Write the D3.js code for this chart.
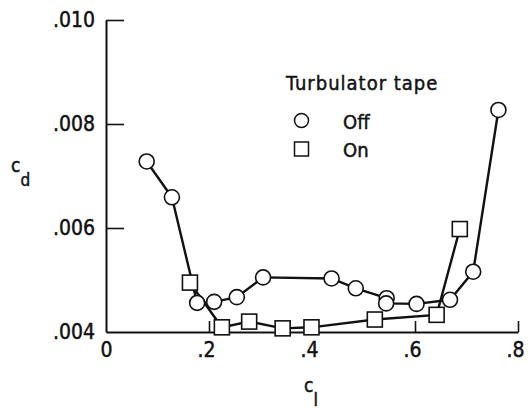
<!DOCTYPE html>
<html>
<head>
<meta charset="utf-8">
<script src="https://cdn.jsdelivr.net/npm/d3@7"></script>
<style>
  html, body { margin: 0; padding: 0; background: #fff; }
  svg text { font-family: "DejaVu Sans Condensed", "DejaVu Sans", sans-serif; fill: #111; stroke: #111; stroke-width: 0.45px; }
</style>
</head>
<body>
<svg id="chart" width="530" height="409"></svg>
<script>
// ---- data ----
const offCl = [0.079, 0.128, 0.177, 0.210, 0.254, 0.305, 0.438, 0.485, 0.545, 0.544, 0.603, 0.668, 0.713, 0.762];
const offCd = [0.00728, 0.00659, 0.00456, 0.00458, 0.00467, 0.00505, 0.00503, 0.00484, 0.00465, 0.00455, 0.00454, 0.00462, 0.00516, 0.00827];
const onCl  = [0.163, 0.225, 0.278, 0.343, 0.399, 0.522, 0.642, 0.687];
const onCd  = [0.00495, 0.00409, 0.00420, 0.00407, 0.00409, 0.00424, 0.00433, 0.00598];
const xTickValues = [0, 0.2, 0.4, 0.6, 0.8];
const xTickLabels = ["0", ".2", ".4", ".6", ".8"];
const yTickValues = [0.004, 0.006, 0.008, 0.010];
const yTickLabels = [".004", ".006", ".008", ".010"];
const legendTitle = "Turbulator tape";
const seriesNames = ["Off", "On"];

const svg = d3.select("#chart");
const ink = "#111";

const x = d3.scaleLinear().domain([0, 0.8]).range([106, 518]);
const y = d3.scaleLinear().domain([0.004, 0.010]).range([332, 20]);

// ---- axes ----
const xAxis = d3.axisBottom(x)
  .tickValues(xTickValues)
  .tickFormat((d, i) => xTickLabels[i])
  .tickSizeInner(-11).tickSizeOuter(0).tickPadding(10);
const gx = svg.append("g").attr("transform", `translate(0,${y(0.004)})`).call(xAxis);
gx.select(".domain").attr("stroke", ink).attr("stroke-width", 2);
gx.selectAll(".tick line").attr("stroke", ink).attr("stroke-width", 1.6)
  .filter(d => d === 0).remove();
gx.selectAll(".tick text")
  .attr("font-size", 21).attr("font-family", null)
  .attr("text-anchor", "end").attr("dx", 6).attr("y", 10);

const yAxis = d3.axisLeft(y)
  .tickValues(yTickValues)
  .tickFormat((d, i) => yTickLabels[i])
  .tickSizeInner(-18).tickSizeOuter(0).tickPadding(11);
const gy = svg.append("g").attr("transform", `translate(${x(0)},0)`).call(yAxis);
gy.select(".domain").attr("stroke", ink).attr("stroke-width", 2);
gy.selectAll(".tick line").attr("stroke", ink).attr("stroke-width", 1.6)
  .filter(d => d === 0.004).remove();
gy.selectAll(".tick text")
  .attr("font-size", 21).attr("font-family", null);

// ---- axis titles ----
const cdLabel = svg.append("text").attr("x", 11).attr("y", 172).attr("font-size", 19);
cdLabel.append("tspan").text("c");
cdLabel.append("tspan").attr("dy", 14).attr("font-size", 17).text("d");

const clLabel = svg.append("text").attr("x", 304).attr("y", 392).attr("font-size", 19);
clLabel.append("tspan").text("c");
clLabel.append("tspan").attr("dy", 14).attr("font-size", 18).text("l");

// ---- series ----
const line = d3.line().x(d => x(d[0])).y(d => y(d[1]));
const offPts = offCl.map((c, i) => [c, offCd[i]]);
const onPts = onCl.map((c, i) => [c, onCd[i]]);

svg.append("path").datum(offPts).attr("d", line)
  .attr("fill", "none").attr("stroke", ink).attr("stroke-width", 2.4);
svg.append("path").datum(onPts).attr("d", line)
  .attr("fill", "none").attr("stroke", ink).attr("stroke-width", 2.4);

const r = 7.5, s = 15;
svg.append("g").selectAll("circle").data(offPts).join("circle")
  .attr("cx", d => x(d[0])).attr("cy", d => y(d[1])).attr("r", r)
  .attr("fill", "#fff").attr("stroke", ink).attr("stroke-width", 1.6);
svg.append("g").selectAll("rect").data(onPts).join("rect")
  .attr("x", d => x(d[0]) - s / 2).attr("y", d => y(d[1]) - s / 2)
  .attr("width", s).attr("height", s)
  .attr("fill", "#fff").attr("stroke", ink).attr("stroke-width", 1.6);

// ---- legend ----
const lg = svg.append("g");
lg.append("text").attr("x", 286).attr("y", 90).attr("font-size", 20)
  .attr("letter-spacing", 1).text(legendTitle);
lg.append("circle").attr("cx", 301.5).attr("cy", 120.5).attr("r", 7)
  .attr("fill", "#fff").attr("stroke", ink).attr("stroke-width", 1.5);
lg.append("rect").attr("x", 294.5).attr("y", 142).attr("width", 14).attr("height", 14)
  .attr("fill", "#fff").attr("stroke", ink).attr("stroke-width", 1.5);
lg.append("text").attr("x", 343).attr("y", 128.5).attr("font-size", 20).text(seriesNames[0]);
lg.append("text").attr("x", 343).attr("y", 157).attr("font-size", 20).text(seriesNames[1]);
</script>
</body>
</html>
